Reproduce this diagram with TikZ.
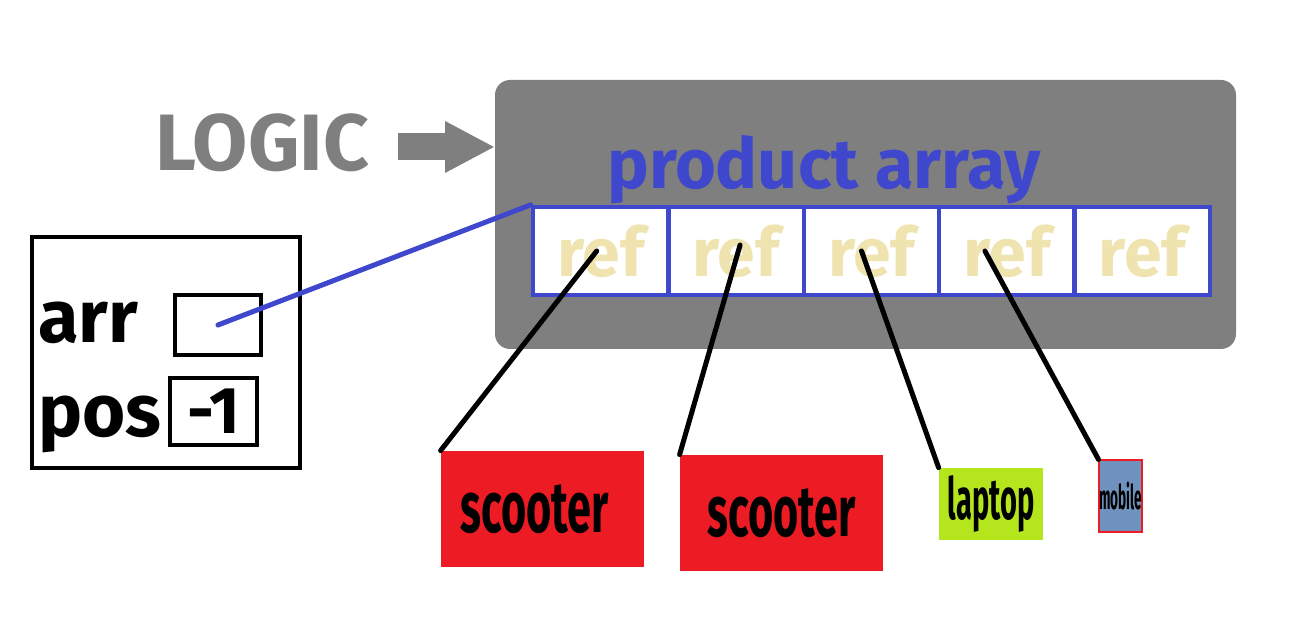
\documentclass[tikz,border=0pt]{standalone}
\usepackage{fontspec}
\setmainfont{Fira Sans}
\usetikzlibrary{arrows.meta}
\begin{document}
\begin{tikzpicture}[x=0.5pt,y=-0.5pt]
\definecolor{panelgray}{RGB}{127,127,127}
\definecolor{arrblue}{RGB}{63,72,204}
\definecolor{refwheat}{RGB}{239,228,176}
\definecolor{scooterred}{RGB}{237,28,36}
\definecolor{laptopgreen}{RGB}{181,230,29}
\definecolor{mobileblue}{RGB}{112,146,190}
\tikzset{
  cell/.style = {draw = arrblue, fill = white, line width = 2.2pt, minimum width = 67.7pt, minimum height = 44pt, inner sep = 0pt, text = refwheat, font = \fontsize{34}{34}\selectfont\bfseries},
  slot/.style = {draw = black, line width = 2pt, inner sep = 0pt},
  item/.style = {inner sep = 0pt, font = \bfseries},
  link/.style = {line width = 2.5pt, line cap = round}
}
\useasboundingbox (0,0) rectangle (1296,624);
\fill [white] (0,0) rectangle (1296,624);
% the panel holding the array
\node [fill = panelgray, rounded corners = 7.5pt, minimum width = 370.5pt, minimum height = 134.5pt, inner sep = 0pt] (panel) at (865.5,214.5) {};
\node [text = panelgray, font = \fontsize{40}{40}\selectfont\bfseries] (logic) at (262,143) {LOGIC};
\coordinate (tail) at (398,147);
\coordinate (tip) at (495,147);
\draw [panelgray, line width = 13.5pt, -{Triangle[length = 25pt, width = 24pt]}] (tail) -- (tip);
\node [text = arrblue, font = \fontsize{35}{35}\selectfont\bfseries, anchor = base] (title) at (824,189) {product array};
\foreach \i in {0,...,4} \node [cell] (c\i) at (600.7+\i*135.4,251) {ref};
% the variable box
\node [draw = black, line width = 2pt, minimum width = 134pt, minimum height = 115.5pt] (frame) at (166,352.5) {};
\node [font = \fontsize{37}{37}\selectfont\bfseries, anchor = base west, inner sep = 0pt] (arrlabel) at (38,343) {arr};
\node [font = \fontsize{37}{37}\selectfont\bfseries, anchor = base west, inner sep = 0pt] (poslabel) at (38,437) {pos};
\node [slot, minimum width = 43pt, minimum height = 30pt] (arrbox) at (218,325) {};
\node [slot, minimum width = 43.5pt, minimum height = 33.5pt, font = \fontsize{33}{33}\selectfont\bfseries] (posbox) at (213.5,411.5) {-1};
\draw [arrblue, link] (arrbox.center) -- (c0.north west);
% the objects
\node [item, fill = scooterred, minimum width = 101.5pt, minimum height = 58pt] (s1) at (542.5,509) {\scalebox{0.6}[1]{\fontsize{36}{36}\selectfont scooter}\hspace*{8pt}};
\node [item, fill = scooterred, minimum width = 101.5pt, minimum height = 58pt] (s2) at (781.5,513) {\scalebox{0.6}[1]{\fontsize{36}{36}\selectfont scooter}};
\node [item, fill = laptopgreen, minimum width = 52pt, minimum height = 36pt] (laptop) at (991,504) {\scalebox{0.5}[1]{\fontsize{29}{29}\selectfont laptop}};
\node [item, fill = mobileblue, draw = scooterred, line width = 0.6pt, minimum width = 18.5pt, minimum height = 36pt] (mobile) at (1120.5,496) {\scalebox{0.4}[1]{\fontsize{17}{17}\selectfont mobile}};
\draw [link] ([xshift = -2pt]c0.center) -- (s1.north west);
\draw [link] ([xshift = 2pt, yshift = 3pt]c1.center) -- (s2.north west);
\draw [link] ([xshift = -5pt]c2.center) -- (laptop.north west);
\draw [link] ([xshift = -11pt]c3.center) -- (mobile.north west);
\end{tikzpicture}
\end{document}
